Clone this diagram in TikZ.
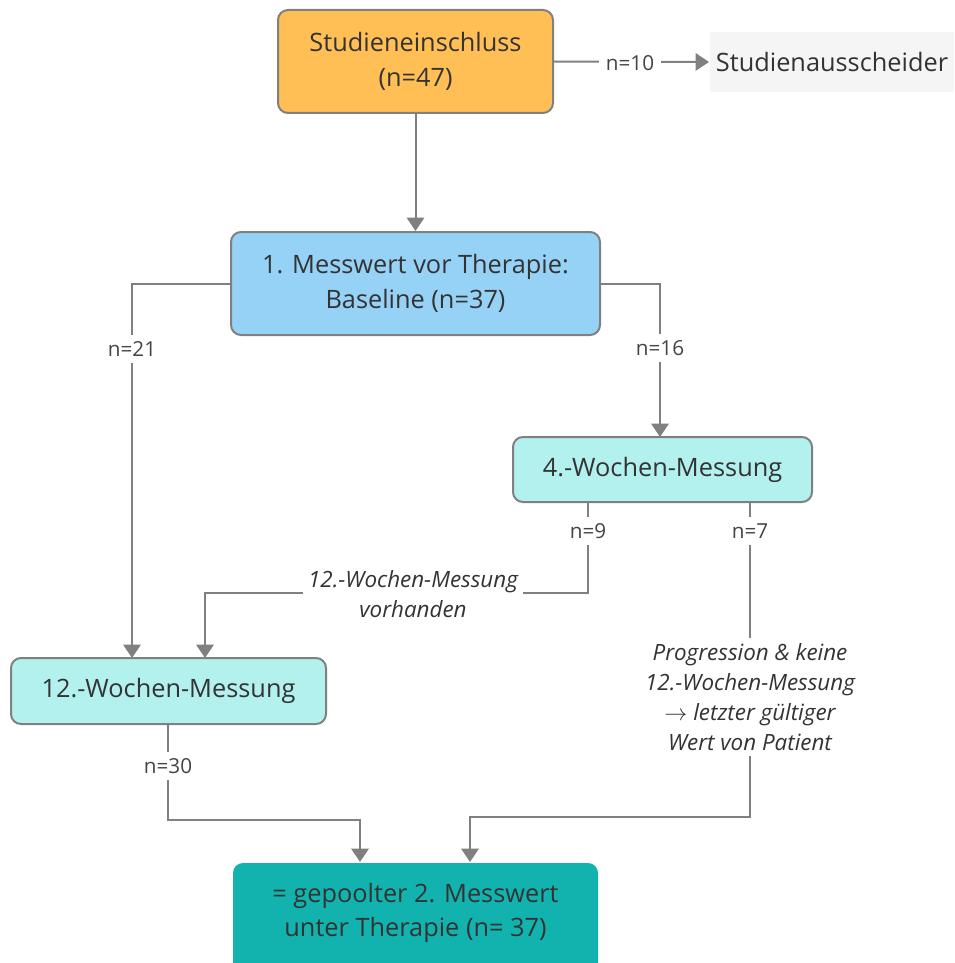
\documentclass[tikz,border=0pt]{standalone}
\usepackage{fontspec}
\setmainfont{Open Sans}
\usetikzlibrary{arrows.meta}
\definecolor{lc}{HTML}{808080}
\definecolor{txt}{HTML}{333333}
\definecolor{labc}{HTML}{444444}
\definecolor{orangef}{HTML}{FFBF55}
\definecolor{bluef}{HTML}{96D1F6}
\definecolor{cyanf}{HTML}{B2F1EE}
\definecolor{tealf}{HTML}{12B3AE}
\definecolor{greyf}{HTML}{F5F5F5}
\tikzset{
  box/.style={draw=lc, line width=1.5pt, rounded corners=7.5pt, align=center, text=txt,
    font=\fontsize{19}{26}\selectfont, inner sep=0pt},
  conn/.style={draw=lc, line width=1.5pt},
  arr/.style={conn, -{Triangle[width=13pt,length=10pt]}},
  lab/.style={fill=white, text=labc, font=\fontsize{15.5}{17}\selectfont, inner sep=5pt},
  note/.style={fill=white, text=txt, align=center, font=\fontsize{16.8}{22.5}\selectfont\itshape, inner sep=4pt},
}
\begin{document}
\begin{tikzpicture}[x=0.75pt,y=-0.75pt]
\useasboundingbox (0,0) rectangle (954,963);
\clip (0,0) rectangle (954,963);

\node[box, fill=orangef, minimum width=206.25pt, minimum height=77.25pt] (inc) at (415.5,61.5) {Studieneinschluss\\(n=47)};
\node[box, draw=none, fill=greyf, rounded corners=0pt, minimum width=183pt, minimum height=45pt] (out) at (832,62) {Studienausscheider};
\node[box, fill=bluef, minimum width=276.75pt, minimum height=77.25pt] (base) at (415.5,283.5) {1. Messwert vor Therapie:\\Baseline (n=37)};
\node[box, fill=cyanf, minimum width=224.25pt, minimum height=48.75pt] (w4) at (662.5,469.5) {4.-Wochen-Messung};
\node[box, fill=cyanf, minimum width=236.25pt, minimum height=49.5pt] (w12) at (168.5,691) {12.-Wochen-Messung};
\node[box, draw=none, fill=tealf, minimum width=273.75pt, minimum height=82.5pt, anchor=north] (pool) at (415.5,862) {};
\node[align=center, text=txt, font=\fontsize{19}{26}\selectfont] (pooltxt) at (415.5,913) {= gepoolter 2. Messwert\\unter Therapie (n= 37)};

\coordinate (pA) at (132,658);
\coordinate (pB) at (660,437);
\coordinate (pC) at (205,658);
\coordinate (pD) at (470,862);
\coordinate (pE) at (360,862);
\coordinate (s9) at (588,502);
\coordinate (s7) at (750,502);
\coordinate (s30) at (168,724);

\draw[arr] (inc.east) -- (out.west);
\draw[arr] (inc.south) -- (base.north);
\draw[arr] (base.west) -| (pA);
\draw[arr] (base.east) -| (pB);
\draw[arr] (s9) -- (588,593) -- (205,593) -- (pC);
\draw[arr] (s7) -- (750,817) -- (470,817) -- (pD);
\draw[arr] (s30) -- (168,820) -- (360,820) -- (pE);

\node[lab] (l10) at (630,63) {n=10};
\node[lab] (l21) at (132,349) {n=21};
\node[lab] (l16) at (660,348) {n=16};
\node[lab] (l9) at (588,531) {n=9};
\node[lab] (l7) at (750,531) {n=7};
\node[lab] (l30) at (168,766) {n=30};
\node[note] (nv) at (413,594) {12.-Wochen-Messung\\vorhanden};
\node[note] (np) at (750,697) {Progression \& keine\\12.-Wochen-Messung\\$\rightarrow$ letzter gültiger\\Wert von Patient};
\end{tikzpicture}
\end{document}
